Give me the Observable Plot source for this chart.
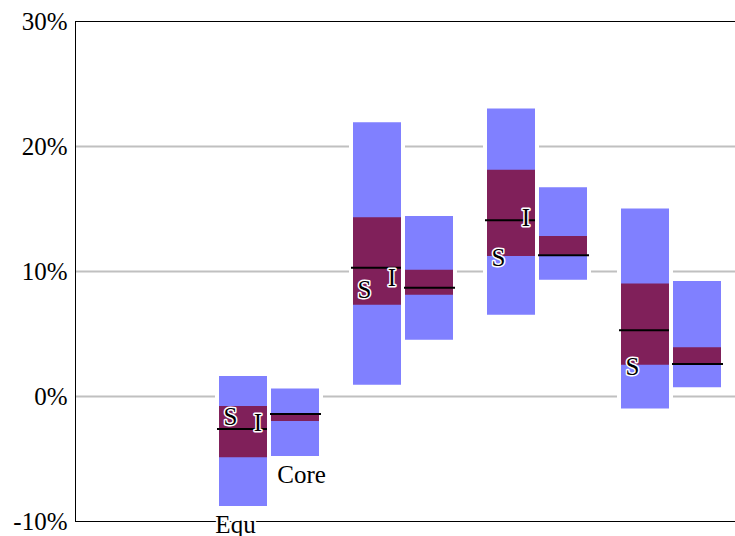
<!DOCTYPE html>
<html>
<head>
<meta charset="utf-8">
<script src="https://cdn.jsdelivr.net/npm/d3@7"></script>
<script src="https://cdn.jsdelivr.net/npm/@observablehq/plot@0.6"></script>
<style>
  html, body { margin: 0; padding: 0; background: #fff; overflow: hidden; }
  #chart { width: 735px; height: 536px; overflow: hidden; }
  #chart svg { max-width: none !important; font-family: "Liberation Serif", "Times New Roman", serif !important; }
  #chart svg text { font-family: "Liberation Serif", "Times New Roman", serif !important; }
</style>
</head>
<body>
<div id="chart"></div>
<script>
// x slots (first slot is empty in the reference)
const slots = ["P0", "P1", "P2", "P3", "P4"];
const groups = ["P1", "P2", "P3", "P4"];
const seriesNames = ["Equ", "Core"];
const yTicks = [-10, 0, 10, 20, 30];

// Equ series (percent)
const equOuterLow  = [-8.8, 0.9, 6.5, -1.0];
const equOuterHigh = [1.6, 21.9, 23.0, 15.0];
const equInnerLow  = [-4.9, 7.3, 11.2, 2.5];
const equInnerHigh = [-0.8, 14.3, 18.1, 9.0];
const equMedian    = [-2.6, 10.3, 14.1, 5.3];
// Core series (percent)
const coreOuterLow  = [-4.8, 4.5, 9.3, 0.7];
const coreOuterHigh = [0.6, 14.4, 16.7, 9.2];
const coreInnerLow  = [-2.0, 8.1, 11.3, 2.6];
const coreInnerHigh = [-1.4, 10.1, 12.8, 3.9];
const coreMedian    = [-1.4, 8.7, 11.3, 2.6];
// markers on the Equ bars
const sMarker = [-1.6, 8.5, 11.1, 2.4];
const iMarker = [-2.1, 9.5, 14.3, null];

const equRows = groups.map((g, i) => ({group: g, lo: equOuterLow[i], hi: equOuterHigh[i], ilo: equInnerLow[i], ihi: equInnerHigh[i], med: equMedian[i], s: sMarker[i], m: iMarker[i], label: i === 0 ? seriesNames[0] : null}));
const coreRows = groups.map((g, i) => ({group: g, lo: coreOuterLow[i], hi: coreOuterHigh[i], ilo: coreInnerLow[i], ihi: coreInnerHigh[i], med: coreMedian[i], label: i === 0 ? seriesNames[1] : null}));

const LIGHT = "#8080ff";
const DARK = "#80205a";
const equInset = {insetLeft: 0, insetRight: 86};
const coreInset = {insetLeft: 52, insetRight: 34};
const textStyle = {fontSize: 25};

const chart = Plot.plot({
  width: 740,
  height: 536,
  marginLeft: 75,
  marginRight: 0,
  marginTop: 21,
  marginBottom: 15,
  style: "font-size: 25px; background: #fff; color: #000; max-width: none;",
  x: {type: "band", domain: slots, range: [85, 755], padding: 0, axis: null},
  y: {domain: [-10, 30], ticks: yTicks, tickFormat: d => d + "%", tickSize: 0, tickPadding: 8, label: null},
  marks: [
    Plot.ruleY([0, 10, 20], {stroke: "#c0c0c0", strokeWidth: 2}),
    // white halos around bars
    Plot.barY(equRows, {x: "group", y1: "lo", y2: "hi", fill: "white", stroke: "white", strokeWidth: 8, ...equInset}),
    Plot.barY(coreRows, {x: "group", y1: "lo", y2: "hi", fill: "white", stroke: "white", strokeWidth: 8, ...coreInset}),
    // outer ranges
    Plot.barY(equRows, {x: "group", y1: "lo", y2: "hi", fill: LIGHT, ...equInset}),
    Plot.barY(coreRows, {x: "group", y1: "lo", y2: "hi", fill: LIGHT, ...coreInset}),
    // inner ranges
    Plot.barY(equRows, {x: "group", y1: "ilo", y2: "ihi", fill: DARK, ...equInset}),
    Plot.barY(coreRows, {x: "group", y1: "ilo", y2: "ihi", fill: DARK, ...coreInset}),
    // medians
    Plot.tickY(equRows, {x: "group", y: "med", stroke: "black", strokeWidth: 2, insetLeft: -2, insetRight: 86}),
    Plot.tickY(coreRows, {x: "group", y: "med", stroke: "black", strokeWidth: 2, insetLeft: 51, insetRight: 32}),
    // markers
    Plot.text(equRows.filter(d => d.s != null), {x: "group", y: "s", text: () => "S", dx: -56, ...textStyle, fill: "black", stroke: "white", strokeWidth: 3}),
    Plot.text(equRows.filter(d => d.m != null), {x: "group", y: "m", text: () => "I", dx: -28.5, ...textStyle, fill: "black", stroke: "white", strokeWidth: 3}),
    // frame
    Plot.frame({stroke: "black", strokeWidth: 1}),
    // series labels
    Plot.text(equRows.filter(d => d.label), {x: "group", y: "lo", text: "label", dx: -51, dy: 8.5, lineAnchor: "top", ...textStyle, fill: "black", stroke: "white", strokeWidth: 4}),
    Plot.text(coreRows.filter(d => d.label), {x: "group", y: "lo", text: "label", dx: 15, dy: 8.5, lineAnchor: "top", ...textStyle, fill: "black"})
  ]
});
document.getElementById("chart").appendChild(chart);
</script>
</body>
</html>
